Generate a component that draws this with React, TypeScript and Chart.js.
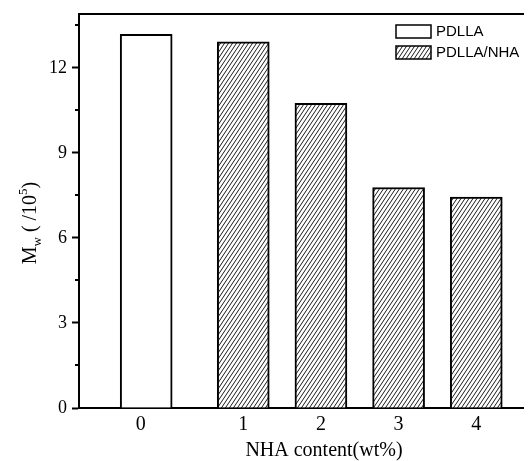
import React, { useEffect, useRef } from 'react';
import { Chart, registerables } from 'chart.js';

Chart.register(...registerables);

// ---- data ----
const seriesLabels = ['PDLLA', 'PDLLA/NHA'];
const pdllaX = [-0.25];
const pdllaValues = [13.18];
const nhaX = [1, 2, 3, 4];
const nhaValues = [12.92, 10.75, 7.78, 7.44];
const xTickValues = [-0.32, 1, 2, 3, 4];
const xTickLabels = ['0', '1', '2', '3', '4'];
const yTickStep = 3;
const yMinorStep = 1.5;
const xTitle = 'NHA content(wt%)';
const yTitleParts = [
  { text: 'M', kind: 'normal' },
  { text: 'w', kind: 'sub' },
  { text: ' ( /10', kind: 'normal' },
  { text: '5', kind: 'sup' },
  { text: ')', kind: 'normal' },
];

const SERIF = '"Liberation Serif", "Times New Roman", serif';
const SANS = '"Liberation Sans", Arial, sans-serif';

function makeHatch(): CanvasPattern | string {
  const w = 4;
  const h = 6;
  const c = document.createElement('canvas');
  c.width = w;
  c.height = h;
  const g = c.getContext('2d');
  if (!g) return '#fff';
  g.fillStyle = '#fff';
  g.fillRect(0, 0, w, h);
  g.strokeStyle = '#000';
  g.lineWidth = 0.9;
  for (let k = -1; k <= 1; k++) {
    g.beginPath();
    g.moveTo(k * w, h);
    g.lineTo(k * w + w, 0);
    g.stroke();
  }
  return g.createPattern(c, 'repeat') || '#fff';
}

const decorPlugin = {
  id: 'decor',
  afterDraw(chart: any) {
    const { ctx, chartArea } = chart;
    const yScale = chart.scales.y;
    ctx.save();
    // top frame line
    ctx.strokeStyle = '#000';
    ctx.lineWidth = 2;
    ctx.beginPath();
    ctx.moveTo(chartArea.left - 1, chartArea.top);
    ctx.lineTo(chartArea.right, chartArea.top);
    ctx.stroke();

    // minor ticks on y
    ctx.lineWidth = 2;
    for (let v = yMinorStep; v < yScale.max; v += yTickStep) {
      const py = Math.round(yScale.getPixelForValue(v));
      ctx.beginPath();
      ctx.moveTo(chartArea.left - 4, py);
      ctx.lineTo(chartArea.left, py);
      ctx.stroke();
    }

    // y title with sub/superscript
    ctx.translate(chartArea.left - 50, (chartArea.top + chartArea.bottom) / 2 + 12);
    ctx.rotate(-Math.PI / 2);
    ctx.fillStyle = '#000';
    ctx.textBaseline = 'alphabetic';
    const mainFont = `20px ${SERIF}`;
    const smallFont = `13px ${SERIF}`;
    let total = 0;
    yTitleParts.forEach((p) => {
      ctx.font = p.kind === 'normal' ? mainFont : smallFont;
      total += ctx.measureText(p.text).width;
    });
    let x = -total / 2;
    yTitleParts.forEach((p) => {
      ctx.font = p.kind === 'normal' ? mainFont : smallFont;
      const dy = p.kind === 'sub' ? 5 : p.kind === 'sup' ? -9 : 0;
      ctx.fillText(p.text, x, 7 + dy);
      x += ctx.measureText(p.text).width;
    });
    ctx.restore();

    // legend
    ctx.save();
    const lx = chartArea.left + 317;
    let ly = chartArea.top + 11;
    const ds = chart.data.datasets;
    ds.forEach((d: any) => {
      ctx.fillStyle = d.backgroundColor;
      ctx.fillRect(lx, ly, 35, 13);
      ctx.strokeStyle = '#000';
      ctx.lineWidth = 1.5;
      ctx.strokeRect(lx, ly, 35, 13);
      ctx.fillStyle = '#000';
      ctx.font = `15px ${SANS}`;
      ctx.textBaseline = 'middle';
      ctx.textAlign = 'left';
      ctx.fillText(d.label, lx + 40, ly + 7);
      ly += 21;
    });
    ctx.restore();
  },
};

export default function App() {
  const ref = useRef<HTMLCanvasElement | null>(null);

  useEffect(() => {
    if (!ref.current) return;
    const hatch = makeHatch();
    const chart = new Chart(ref.current, {
      type: 'bar',
      data: {
        datasets: [
          {
            label: seriesLabels[0],
            data: pdllaX.map((x, i) => ({ x, y: pdllaValues[i] })),
            backgroundColor: '#fff',
            borderColor: '#000',
            borderWidth: 2,
          },
          {
            label: seriesLabels[1],
            data: nhaX.map((x, i) => ({ x, y: nhaValues[i] })),
            backgroundColor: hatch as any,
            borderColor: '#000',
            borderWidth: 2,
          },
        ],
      },
      options: {
        animation: false,
        responsive: false,
        maintainAspectRatio: false,
        layout: { padding: { top: 6, left: 0, right: 0, bottom: 0 } },
        plugins: { legend: { display: false }, tooltip: { enabled: false } },
        datasets: { bar: { grouped: false, barThickness: 52 } } as any,
        scales: {
          x: {
            type: 'linear',
            min: -1.115,
            max: 5.194,
            offset: false,
            grid: { display: false, drawTicks: false, offset: false },
            border: { display: true, color: '#000', width: 2 },
            ticks: {
              color: '#000',
              font: { family: SERIF, size: 20 },
              padding: 5,
              autoSkip: false,
              maxRotation: 0,
              callback: (v: any) => {
                const i = xTickValues.findIndex((t) => Math.abs(t - Number(v)) < 1e-6);
                return i >= 0 ? xTickLabels[i] : '';
              },
            },
            afterBuildTicks: (s: any) => {
              s.ticks = xTickValues.map((v) => ({ value: v }));
            },
            afterFit: (s: any) => {
              s.height = 53;
              s.paddingLeft = 0;
              s.paddingRight = 0;
              s.paddingTop = 0;
              s.paddingBottom = 0;
            },
            title: {
              display: true,
              text: xTitle,
              color: '#000',
              font: { family: SERIF, size: 20, lineHeight: 1 },
              padding: { top: 0, bottom: 0 },
            },
          } as any,
          y: {
            min: 0,
            max: 13.9,
            grid: {
              drawOnChartArea: false,
              drawTicks: true,
              tickLength: 7,
              tickColor: '#000',
              tickWidth: 2,
            },
            border: { display: true, color: '#000', width: 2 },
            ticks: {
              stepSize: yTickStep,
              includeBounds: false,
              color: '#000',
              font: { family: SERIF, size: 18 },
              padding: 5,
            },
            afterFit: (s: any) => {
              s.width = 71;
              s.paddingTop = 0;
              s.paddingBottom = 0;
              s.paddingLeft = 0;
              s.paddingRight = 0;
            },
          } as any,
        },
      },
      plugins: [decorPlugin],
    });
    return () => chart.destroy();
  }, []);

  return (
    <div style={{ width: 524, height: 453, overflow: 'hidden' }}>
      <canvas ref={ref} width={561} height={453} style={{ display: 'block', width: 561, height: 453 }} />
    </div>
  );
}
